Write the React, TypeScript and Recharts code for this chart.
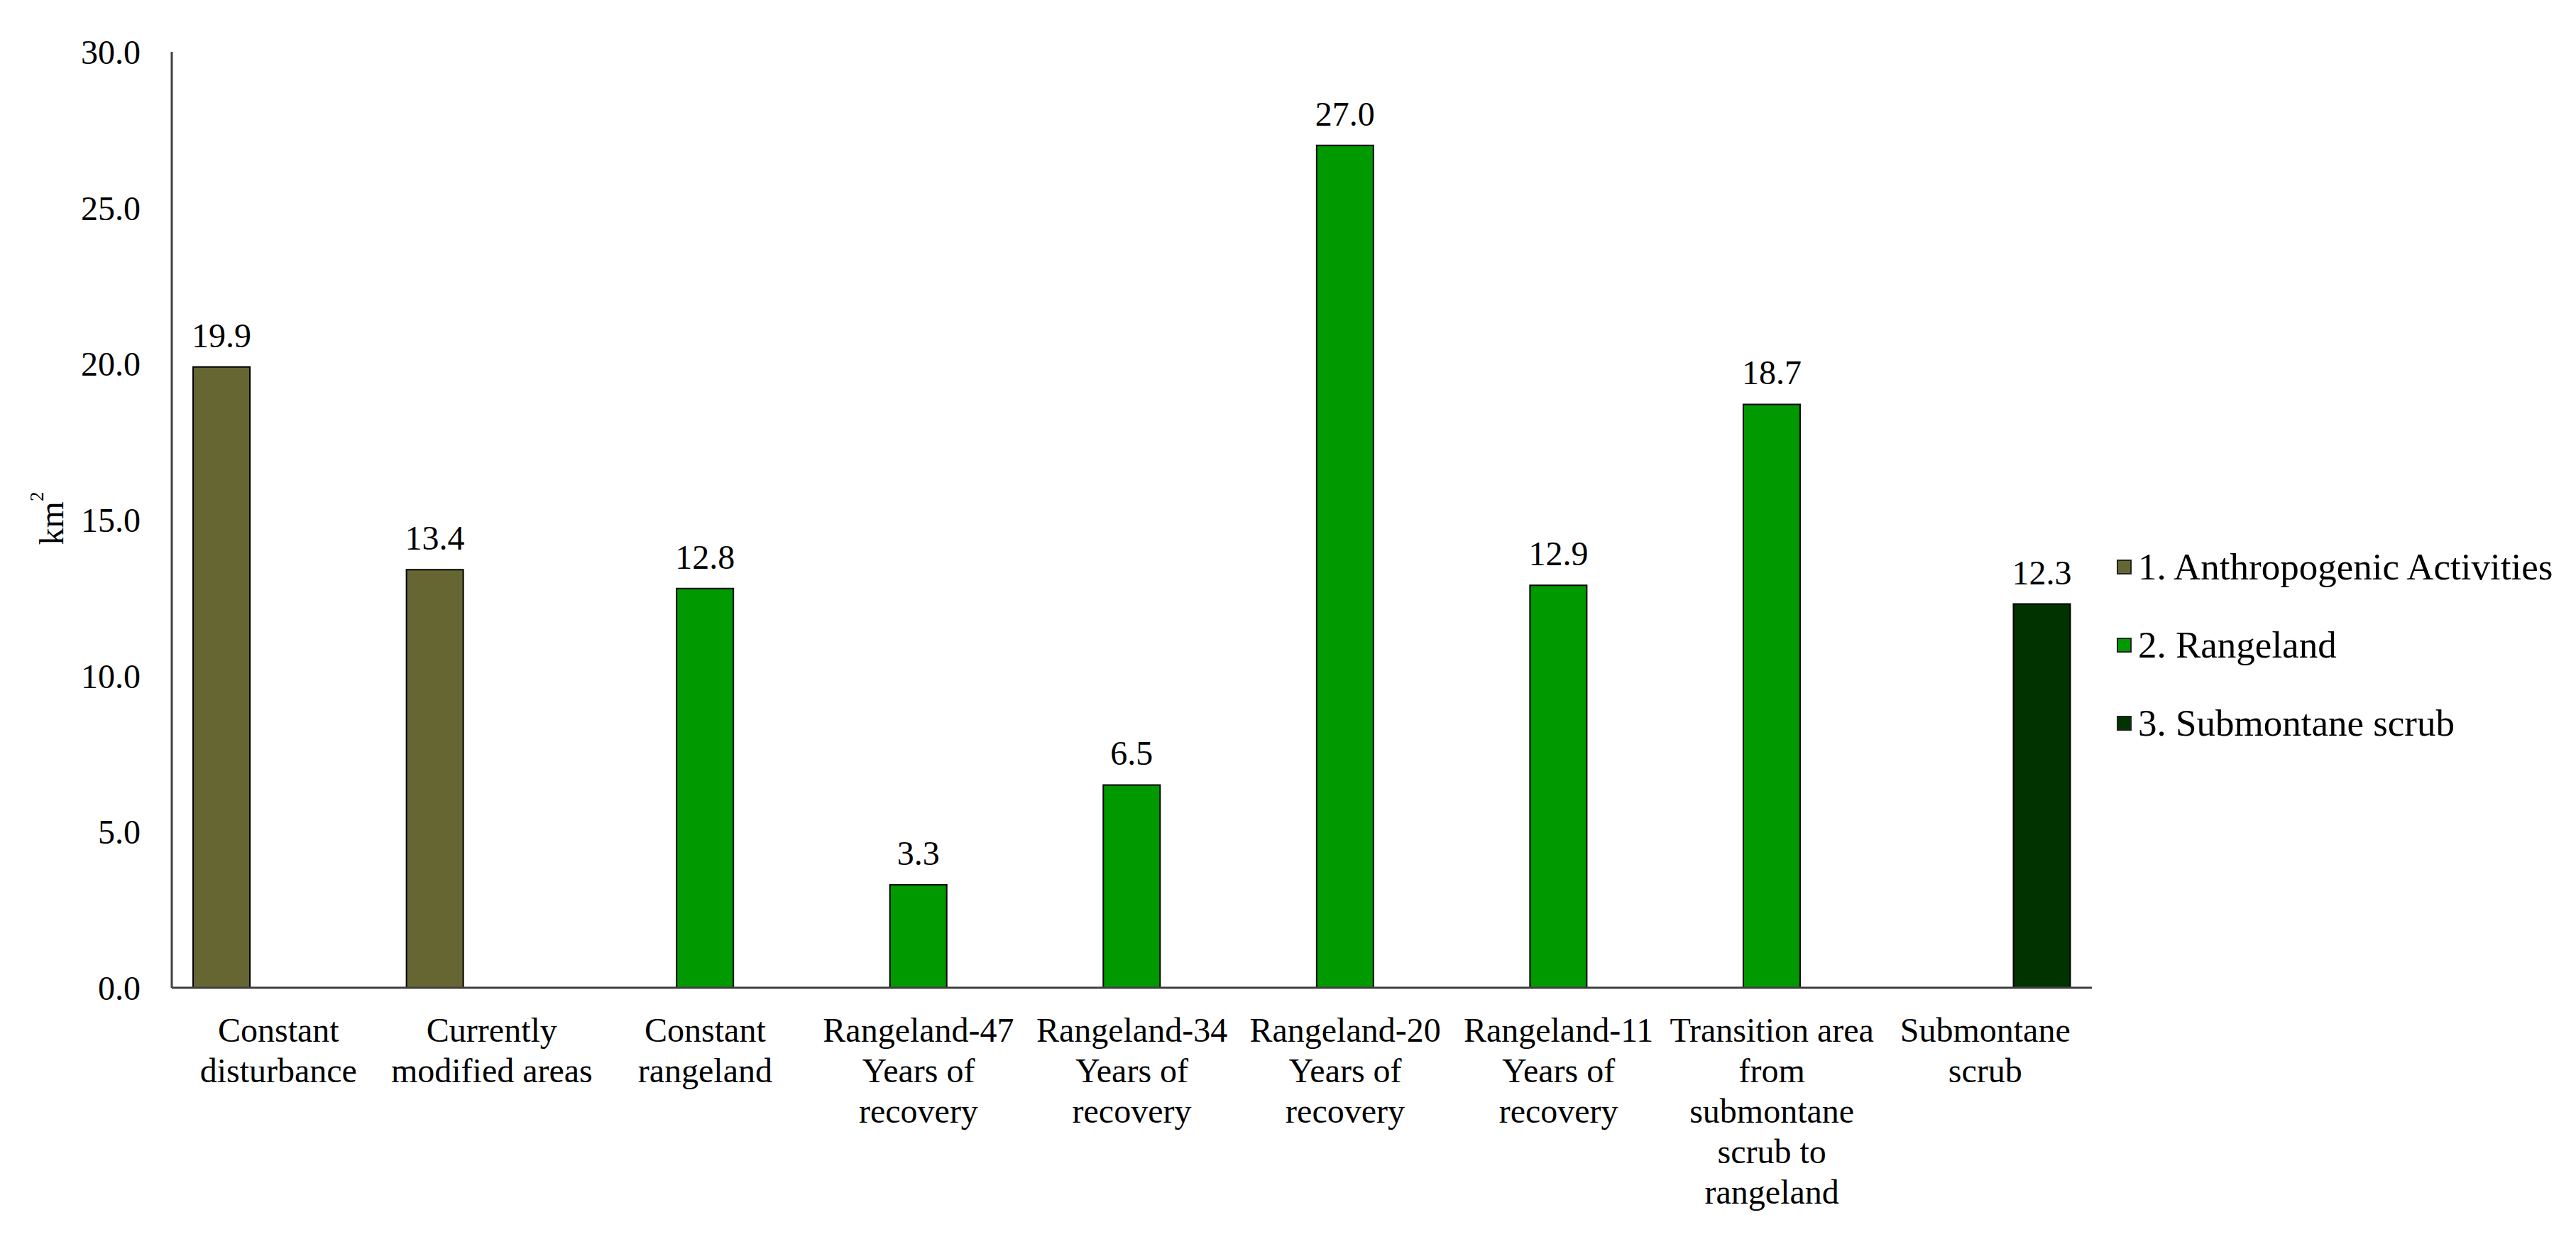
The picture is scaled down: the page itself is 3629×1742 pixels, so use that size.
import React from 'react';
import { BarChart, Bar, XAxis, YAxis, LabelList } from 'recharts';

const FONT = '"Liberation Serif", "Times New Roman", serif';

const categories = [
  'Constant\ndisturbance',
  'Currently\nmodified areas',
  'Constant\nrangeland',
  'Rangeland-47\nYears of\nrecovery',
  'Rangeland-34\nYears of\nrecovery',
  'Rangeland-20\nYears of\nrecovery',
  'Rangeland-11\nYears of\nrecovery',
  'Transition area\nfrom\nsubmontane\nscrub to\nrangeland',
  'Submontane\nscrub',
];

const anthropogenic = [19.9, 13.4, null, null, null, null, null, null, null];
const rangeland = [null, null, 12.8, 3.3, 6.5, 27.0, 12.9, 18.7, null];
const submontane = [null, null, null, null, null, null, null, null, 12.3];

const yTicks = [0, 5, 10, 15, 20, 25, 30];

const SERIES = [
  { key: 'anthropogenic', name: '1. Anthropogenic Activities', color: '#666633' },
  { key: 'rangeland', name: '2. Rangeland', color: '#009900' },
  { key: 'submontane', name: '3. Submontane scrub', color: '#003300' },
];

const data = categories.map((name, i) => ({
  name,
  anthropogenic: anthropogenic[i],
  rangeland: rangeland[i],
  submontane: submontane[i],
}));

const fmt = (v: any) => (v == null ? '' : Number(v).toFixed(1));

const CategoryTick = (props: any) => {
  const { x, y, payload } = props;
  const lines = String(payload.value).split('\n');
  return (
    <text x={x} y={y} textAnchor="middle" fontSize={48} fontFamily={FONT} fill="#000">
      {lines.map((line, i) => (
        <tspan key={i} x={x} dy={i === 0 ? 76 : 57}>
          {line}
        </tspan>
      ))}
    </text>
  );
};

const YLabel = () => (
  <text
    x={72}
    y={730}
    transform="rotate(-90, 72, 730)"
    textAnchor="middle"
    dominantBaseline="central"
    fontSize={48}
    fontFamily={FONT}
    fill="#000"
  >
    km
    <tspan fontSize={27} dy={-20}>2</tspan>
  </text>
);

// legend sits outside the plot, to the right of the axis end
const LegendBox = () => (
  <div
    style={{
      position: 'absolute',
      left: 2982,
      top: 743,
      fontFamily: FONT,
      fontSize: 53,
      color: '#000',
    }}
  >
    {SERIES.map((s) => (
      <div key={s.key} style={{ display: 'flex', alignItems: 'center', height: 110, whiteSpace: 'nowrap' }}>
        <span
          style={{
            display: 'inline-block',
            width: 17,
            height: 17,
            background: s.color,
            border: '2px solid #222',
            marginRight: 9,
          }}
        />
        <span>{s.name}</span>
      </div>
    ))}
  </div>
);

export default function App() {
  return (
    <div style={{ position: 'absolute', left: 0, top: 0, width: 3629, height: 1742, background: '#fff' }}>
      <BarChart
        width={3629}
        height={1742}
        data={data}
        margin={{ top: 73, right: 682, bottom: 0, left: 0 }}
        barCategoryGap="10%"
        barGap={0}
      >
        <XAxis
          dataKey="name"
          height={351}
          interval={0}
          tick={<CategoryTick />}
          tickLine={false}
          tickSize={0}
          tickMargin={0}
          axisLine={{ stroke: '#404040', strokeWidth: 3 }}
        />
        <YAxis
          width={242}
          domain={[0, 30]}
          ticks={yTicks}
          tickFormatter={fmt}
          tickLine={false}
          tickSize={0}
          tickMargin={44}
          axisLine={{ stroke: '#404040', strokeWidth: 3 }}
          tick={{ fontSize: 48, fontFamily: FONT, fill: '#000' }}
          label={{ content: () => <YLabel /> }}
        />
        {SERIES.map((s) => (
          <Bar
            key={s.key}
            dataKey={s.key}
            name={s.name}
            fill={s.color}
            stroke="#000"
            strokeWidth={2}
            isAnimationActive={false}
          >
            <LabelList
              dataKey={s.key}
              position="top"
              offset={28}
              formatter={fmt}
              fontSize={48}
              fontFamily={FONT}
              fill="#000"
            />
          </Bar>
        ))}
      </BarChart>
      <LegendBox />
    </div>
  );
}
